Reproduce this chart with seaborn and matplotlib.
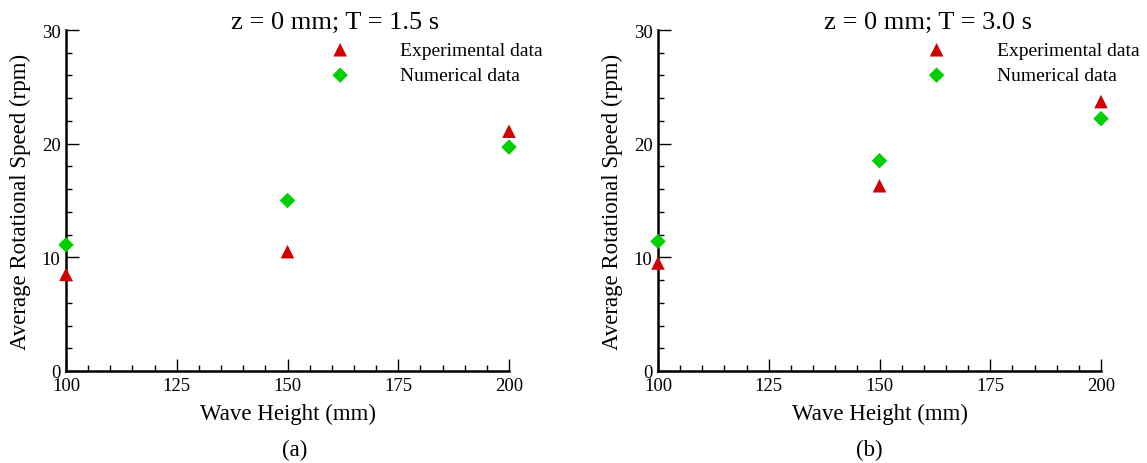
import matplotlib
matplotlib.use("Agg")
import matplotlib.pyplot as plt
from matplotlib.ticker import MultipleLocator
import seaborn as sns
import pandas as pd

# Wave heights (mm) and average rotational speeds (rpm)
wave_height = [100, 150, 200]
exp_t15 = [8.5, 10.5, 21.1]
num_t15 = [11.1, 15.0, 19.7]
exp_t30 = [9.5, 16.3, 23.7]
num_t30 = [11.4, 18.5, 22.2]

titles = ["z = 0 mm; T = 1.5 s", "z = 0 mm; T = 3.0 s"]
panel_tags = ["(a)", "(b)"]
series_names = ["Experimental data", "Numerical data"]

RED = "#D00000"
GREEN = "#00D000"

sns.set_theme(style="ticks")
plt.rcParams["font.family"] = ["Liberation Serif", "DejaVu Serif"]
plt.rcParams["mathtext.fontset"] = "stix"
plt.rcParams["text.color"] = "black"

fig = plt.figure(figsize=(11.47, 4.64), dpi=100)
W, H = 1147, 464
rects = [
    [66 / W, 1 - 372 / H, 443 / W, 341 / H],
    [658 / W, 1 - 372 / H, 443 / W, 341 / H],
]
title_x = [0.607, 0.610]
tag_x = [0.257, 0.758]
legend_x = [0.575, 0.585]

datasets = [(exp_t15, num_t15), (exp_t30, num_t30)]

for i, (exp_vals, num_vals) in enumerate(datasets):
    ax = fig.add_axes(rects[i])
    df_exp = pd.DataFrame({"h": wave_height, "v": exp_vals})
    df_num = pd.DataFrame({"h": wave_height, "v": num_vals})
    sns.scatterplot(data=df_exp, x="h", y="v", ax=ax, marker="^", s=95,
                    color=RED, edgecolor="none", linewidth=0,
                    label=series_names[0], clip_on=False, zorder=3)
    sns.scatterplot(data=df_num, x="h", y="v", ax=ax, marker="D", s=62,
                    color=GREEN, edgecolor="none", linewidth=0,
                    label=series_names[1], clip_on=False, zorder=3)

    ax.set_xlim(100, 200)
    ax.set_ylim(0, 30)
    ax.xaxis.set_major_locator(MultipleLocator(25))
    ax.xaxis.set_minor_locator(MultipleLocator(5))
    ax.yaxis.set_major_locator(MultipleLocator(10))
    ax.yaxis.set_minor_locator(MultipleLocator(2))
    ax.tick_params(which="both", direction="in", top=False, right=False,
                   color="black", labelsize=13.5, labelcolor="black")
    ax.tick_params(which="major", length=9, width=1.0, pad=4)
    ax.tick_params(which="minor", length=4, width=1.0)
    for side in ("top", "right"):
        ax.spines[side].set_visible(False)
    for side in ("left", "bottom"):
        ax.spines[side].set_color("black")
        ax.spines[side].set_linewidth(1.8)

    ax.set_xlabel("Wave Height (mm)", fontsize=16.5, color="black", labelpad=7)
    ax.set_ylabel("Average Rotational Speed (rpm)", fontsize=16.5,
                  color="black", labelpad=7.5)

    ax.text(title_x[i], 1.024, titles[i], transform=ax.transAxes,
            ha="center", va="center", fontsize=19, color="black")

    ax.legend(loc="upper left", bbox_to_anchor=(legend_x[i], 0.967),
              frameon=False, fontsize=14, handlelength=2.0,
              handletextpad=2.1, labelspacing=0.4, borderpad=0,
              borderaxespad=0, markerscale=1.0, labelcolor="black")

    fig.text(tag_x[i], 1 - 450 / H, panel_tags[i], ha="center",
             va="center", fontsize=16.5, color="black")

fig.savefig("out.png", dpi=100, facecolor="white")
